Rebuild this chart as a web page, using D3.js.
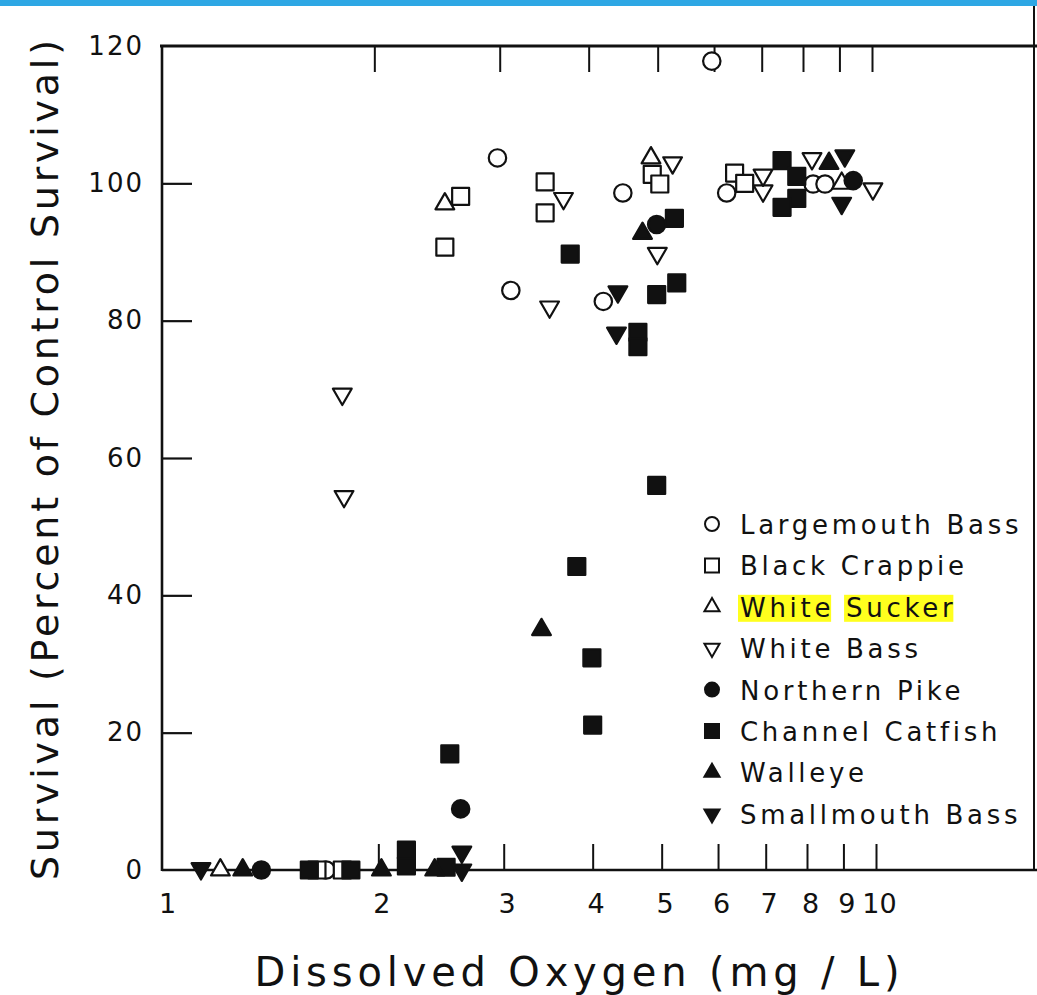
<!DOCTYPE html>
<html><head><meta charset="utf-8">
<script src="https://cdn.jsdelivr.net/npm/d3@7"></script>
<style>
html,body{margin:0;padding:0;background:#fff;}
svg{display:block;}
text{font-family:"DejaVu Sans",sans-serif;fill:#111;}
</style></head><body>
<svg id="chart" width="1037" height="995"></svg>
<script>
// ---- data (dissolved oxygen mg/L, survival % of control) ----
const speciesNames = ["Largemouth Bass","Black Crappie","White Sucker","White Bass","Northern Pike","Channel Catfish","Walleye","Smallmouth Bass"];

const largemouthBassDO  = [1.69, 2.94, 3.07, 4.14, 4.41, 5.88, 6.17, 8.16, 8.48];
const largemouthBassSurv= [0, 103.7, 84.4, 82.8, 98.6, 117.8, 98.6, 99.9, 99.9];

const blackCrappieDO    = [1.64, 1.78, 2.48, 2.61, 3.43, 3.43, 4.85, 4.97, 6.33, 6.54];
const blackCrappieSurv  = [0, 0, 90.7, 98.1, 100.2, 95.7, 101.3, 99.9, 101.5, 100];

const whiteSuckerDO     = [1.20, 2.48, 4.83, 8.95];
const whiteSuckerSurv   = [0, 97.0, 103.7, 100];

const whiteBassDO       = [1.78, 1.79, 3.48, 3.64, 4.93, 5.18, 6.94, 6.94, 8.13, 9.9];
const whiteBassSurv     = [69.3, 54.4, 82, 97.8, 89.8, 103, 98.9, 101.2, 103.6, 99.2];

const northernPikeDO    = [1.37, 2.61, 4.92, 9.29];
const northernPikeSurv  = [0, 8.9, 94, 100.4];

const channelCatfishDO  = [1.60, 1.83, 2.19, 2.19, 2.49, 2.52, 3.72, 3.80, 3.99, 4.00, 4.63, 4.63, 4.92, 4.92, 5.21, 5.25, 7.38, 7.74, 7.74, 7.38];
const channelCatfishSurv= [0, 0, 0.6, 2.9, 0.4, 16.9, 89.7, 44.2, 30.9, 21.1, 78.3, 76.2, 56, 83.8, 94.9, 85.5, 103.3, 101, 97.8, 96.5];

const walleyeDO         = [1.29, 2.02, 2.40, 3.39, 4.70, 8.59];
const walleyeSurv       = [0, 0, 0, 35, 92.7, 102.9];

const smallmouthBassDO  = [1.127, 2.62, 2.62, 4.34, 4.32, 9.04, 8.95];
const smallmouthBassSurv= [0.2, 0, 2.6, 84.2, 78.2, 104, 97.1];

const xTickValues = [1, 2, 3, 4, 5, 6, 7, 8, 9, 10];
const yTickValues = [0, 20, 40, 60, 80, 100, 120];
const xTitle = "Dissolved Oxygen (mg / L)";
const yTitle = "Survival (Percent of Control Survival)";

const seriesDO   = [largemouthBassDO, blackCrappieDO, whiteSuckerDO, whiteBassDO, northernPikeDO, channelCatfishDO, walleyeDO, smallmouthBassDO];
const seriesSurv = [largemouthBassSurv, blackCrappieSurv, whiteSuckerSurv, whiteBassSurv, northernPikeSurv, channelCatfishSurv, walleyeSurv, smallmouthBassSurv];

// ---- styles ----
const shapes = ["circle","square","triangle","triangleDown","circle","square","triangle","triangleDown"];
const filled = [false,false,false,false,true,true,true,true];

const W = 1037, H = 995;
const svg = d3.select("#chart");
svg.append("rect").attr("width", W).attr("height", H).attr("fill", "#fff");
svg.append("rect").attr("x", 0).attr("y", 0).attr("width", W).attr("height", 6).attr("fill", "#2ea7e4");

const x = d3.scaleLog().domain([1, 10]).range([164, 876]);
const y = d3.scaleLinear().domain([0, 120]).range([870, 46]);
const frameRight = 1034;

// frame lines
const frame = svg.append("g").attr("stroke", "#111").attr("fill", "none");
frame.append("line").attr("x1", x(1)-2).attr("x2", W).attr("y1", y(0)).attr("y2", y(0)).attr("stroke-width", 2.6);
frame.append("line").attr("x1", x(1)-4).attr("x2", W).attr("y1", y(120)).attr("y2", y(120)).attr("stroke-width", 3);
frame.append("line").attr("x1", x(1)-2).attr("x2", x(1)-2).attr("y1", y(120)-1).attr("y2", y(0)+1).attr("stroke-width", 2.6);
frame.append("line").attr("x1", frameRight).attr("x2", frameRight).attr("y1", 6).attr("y2", y(0)).attr("stroke-width", 2);

// bottom axis
const xAxis = d3.axisBottom(x).tickValues(xTickValues).tickFormat(d3.format("d")).tickSizeInner(-26).tickSizeOuter(0).tickPadding(24);
const gx = svg.append("g").attr("transform", `translate(0,${y(0)})`).call(xAxis);
gx.select(".domain").remove();
gx.selectAll(".tick line").attr("stroke", "#111").attr("stroke-width", 2).filter(d => d === 1).remove();
gx.selectAll(".tick text").attr("font-size", 27).attr("dx", 3).style("font-family", '"DejaVu Sans",sans-serif').attr("fill", "#111");

// top axis (ticks only)
const xTop = d3.axisTop(x).tickValues(xTickValues.filter(d => d > 1)).tickFormat("").tickSizeInner(-26).tickSizeOuter(0);
const gt = svg.append("g").attr("transform", `translate(-4,${y(120)})`).call(xTop);
gt.select(".domain").remove();
gt.selectAll(".tick line").attr("stroke", "#111").attr("stroke-width", 2);

// left axis
const yAxis = d3.axisLeft(y).tickValues(yTickValues).tickSizeInner(-30).tickSizeOuter(0).tickPadding(18);
const gy = svg.append("g").attr("transform", `translate(${x(1)-2},0)`).call(yAxis);
gy.select(".domain").remove();
gy.selectAll(".tick line").attr("stroke", "#111").attr("stroke-width", 2.2).filter(d => d === 0 || d === 120).remove();
gy.selectAll(".tick text").attr("font-size", 26).attr("letter-spacing", 2).style("font-family", '"DejaVu Sans",sans-serif').attr("fill", "#111");

// titles
svg.append("text").attr("x", 577).attr("y", 986).attr("text-anchor", "middle")
  .attr("font-size", 40).attr("textLength", 645).attr("lengthAdjust", "spacing").text(xTitle);
svg.append("text").attr("transform", "translate(58,460) rotate(-90)").attr("text-anchor", "middle")
  .attr("font-size", 38).attr("textLength", 840).attr("lengthAdjust", "spacing").text(yTitle);

// symbols
function symbolPath(shape, r) {
  if (shape === "circle") return d3.symbol(d3.symbolCircle, Math.PI * r * r)();
  if (shape === "square") return d3.symbol(d3.symbolSquare, (2 * r) * (2 * r))();
  const side = 2 * r * 1.08;
  return d3.symbol(d3.symbolTriangle, Math.sqrt(3) / 4 * side * side)();
}
function symbolTransform(shape, cx, cy) {
  return shape === "triangleDown" ? `translate(${cx},${cy}) rotate(180)` : `translate(${cx},${cy})`;
}

const points = [];
seriesDO.forEach((xs, i) => xs.forEach((v, j) => points.push({s: i, x: v, y: seriesSurv[i][j]})));

// draw open first then filled like scan overlap
svg.append("g").selectAll("path").data(points).join("path")
  .attr("d", d => symbolPath(shapes[d.s], shapes[d.s] === "square" ? 8.5 : 8.7))
  .attr("transform", d => symbolTransform(shapes[d.s], x(d.x), y(d.y)))
  .attr("fill", d => filled[d.s] ? "#111" : "#fff")
  .attr("stroke", "#111").attr("stroke-width", 2.2).attr("stroke-linejoin", "round");

// legend
const legendTop = 524, legendStep = 41.4, legendMarkX = 712, legendTextX = 740;
const lg = svg.append("g");
speciesNames.forEach((name, i) => {
  const cy = legendTop + i * legendStep;
  const t = lg.append("text").attr("x", legendTextX).attr("y", cy + 10)
    .attr("font-size", 26).attr("letter-spacing", 3.7).text(name);
  if (name === "White Sucker") {
    const node = t.node();
    const words = [[0, 4], [6, 11]];
    words.forEach(([a, b]) => {
      const e1 = node.getExtentOfChar(a), e2 = node.getExtentOfChar(b);
      lg.insert("rect", "text").attr("x", e1.x - 2).attr("y", cy - 12)
        .attr("width", e2.x + e2.width - e1.x - 1).attr("height", 27).attr("fill", "#ffff1e");
    });
  }
  lg.append("path").attr("d", symbolPath(shapes[i], 7))
    .attr("transform", symbolTransform(shapes[i], legendMarkX, cy))
    .attr("fill", filled[i] ? "#111" : "#fff").attr("stroke", "#111").attr("stroke-width", 2);
});
</script>
</body></html>
